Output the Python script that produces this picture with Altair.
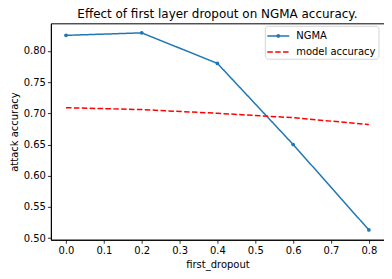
import altair as alt
import pandas as pd

dropout = [0.0, 0.2, 0.4, 0.6, 0.8]
ngma = [0.825, 0.829, 0.780, 0.650, 0.513]
model_acc = [0.709, 0.706, 0.700, 0.693, 0.682]
series_names = ["NGMA", "model accuracy"]
series_colors = ["#1f77b4", "red"]
x_ticks = [0.0, 0.1, 0.2, 0.3, 0.4, 0.5, 0.6, 0.7, 0.8]
y_ticks = [0.50, 0.55, 0.60, 0.65, 0.70, 0.75, 0.80]

rows = []
for d, v in zip(dropout, ngma):
    rows.append({"first_dropout": d, "value": v, "series": series_names[0]})
for d, v in zip(dropout, model_acc):
    rows.append({"first_dropout": d, "value": v, "series": series_names[1]})
df = pd.DataFrame(rows)

FONT = "DejaVu Sans"

x = alt.X("first_dropout:Q",
          scale=alt.Scale(domain=[-0.04, 0.84], nice=False, zero=False),
          axis=alt.Axis(values=x_ticks, format=".1f", title="first_dropout"))
y = alt.Y("value:Q",
          scale=alt.Scale(domain=[0.4973, 0.8443], nice=False, zero=False),
          axis=alt.Axis(values=y_ticks, format=".2f", title="attack accuracy"))

color = alt.Color("series:N",
                  scale=alt.Scale(domain=series_names, range=series_colors),
                  legend=None)
dash = alt.StrokeDash("series:N",
                      scale=alt.Scale(domain=series_names, range=[[1, 0], [5.5, 2.4]]),
                      legend=None)

lines = alt.Chart(df).mark_line(strokeWidth=1.5).encode(
    x=x, y=y, color=color, strokeDash=dash)

points = alt.Chart(df).transform_filter(
    alt.datum.series == series_names[0]
).mark_point(filled=True, size=14, opacity=1, color=series_colors[0]).encode(x=x, y=y)

# legend (drawn manually in matplotlib style)
base = alt.Chart(pd.DataFrame({"k": [0]}))
leg_box = base.mark_rect(fill="white", stroke="#cccccc", strokeWidth=1,
                         cornerRadius=3, opacity=0.8).encode(
    x=alt.value(215), x2=alt.value(329), y=alt.value(3), y2=alt.value(36))
leg_l1 = base.mark_rule(color=series_colors[0], strokeWidth=1.5).encode(
    x=alt.value(217), x2=alt.value(239), y=alt.value(12.7))
leg_p1 = base.mark_point(filled=True, size=14, opacity=1, color=series_colors[0]).encode(
    x=alt.value(228), y=alt.value(12.7))
leg_l2 = base.mark_rule(color=series_colors[1], strokeWidth=1.5, strokeDash=[5.5, 2.4]).encode(
    x=alt.value(217), x2=alt.value(239), y=alt.value(28.7))
leg_t1 = base.mark_text(text=series_names[0], align="left", baseline="middle",
                        font=FONT, fontSize=10, color="black").encode(
    x=alt.value(246), y=alt.value(12.7))
leg_t2 = base.mark_text(text=series_names[1], align="left", baseline="middle",
                        font=FONT, fontSize=10, color="black").encode(
    x=alt.value(246), y=alt.value(28.7))

chart = alt.layer(lines, points, leg_box, leg_l1, leg_p1, leg_l2, leg_t1, leg_t2).properties(
    width=334, height=217,
    background="white",
    title=alt.TitleParams("Effect of first layer dropout on NGMA accuracy.",
                          fontSize=12, font=FONT, fontWeight="normal",
                          color="black", anchor="middle", offset=2),
    autosize=alt.AutoSizeParams(type="none"),
    padding={"left": 43, "top": 15, "right": 0, "bottom": 38},
).configure_view(
    stroke="black", strokeWidth=1
).configure_axis(
    grid=False, domainColor="black", domainWidth=1, tickColor="black",
    tickSize=3.5, tickWidth=0.8, labelFont=FONT, labelFontSize=10,
    labelColor="black", titleFont=FONT, titleFontSize=10, titleFontWeight="normal",
    titleColor="black", labelPadding=2, titlePadding=4
)

chart.save("out.html", embed_options={"renderer": "svg", "actions": False})
